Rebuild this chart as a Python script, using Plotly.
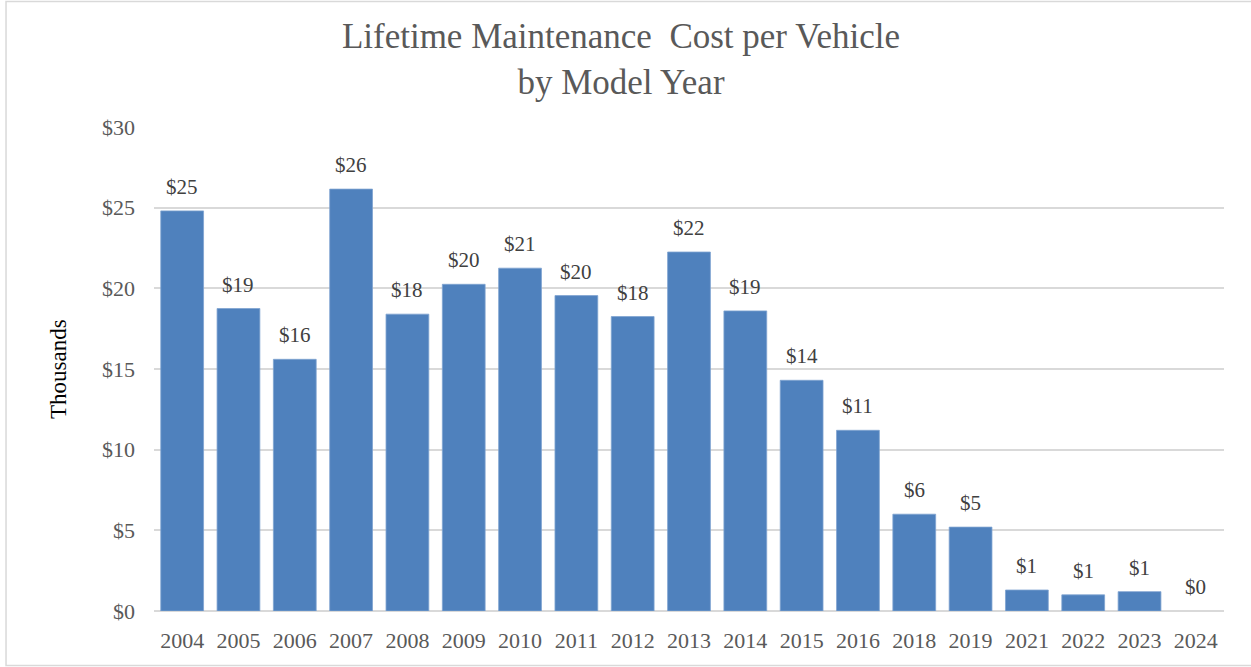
import plotly.graph_objects as go

years = ["2004", "2005", "2006", "2007", "2008", "2009", "2010", "2011", "2012", "2013",
         "2014", "2015", "2016", "2018", "2019", "2021", "2022", "2023", "2024"]
costs = [24.8, 18.75, 15.6, 26.15, 18.4, 20.25, 21.25, 19.55, 18.25, 22.25,
         18.6, 14.3, 11.2, 6.0, 5.2, 1.3, 1.0, 1.2, 0.0]

y_ticks = [0, 5, 10, 15, 20, 25, 30]
y_tick_labels = ["$0", "$5", "$10", "$15", "$20", "$25", "$30"]

FONT = "Liberation Serif, Times New Roman, serif"

fig = go.Figure()
fig.add_trace(go.Bar(
    x=years, y=costs,
    marker=dict(color="#4F81BD",
                line=dict(color="#7FA3D0", width=[0.8 if c > 0 else 0 for c in costs])),
    hoverinfo="skip",
))

annotations = []
for i, (yr, c) in enumerate(zip(years, costs)):
    annotations.append(dict(
        x=i, y=c, xref="x", yref="y", text="$%d" % round(c + 1e-9),
        showarrow=False, yanchor="bottom", yshift=10,
        font=dict(family=FONT, size=21, color="#404040"),
    ))

annotations.append(dict(
    x=-0.0897, y=0.5, xref="paper", yref="paper", text="Thousands",
    textangle=-90, showarrow=False, xanchor="center", yanchor="middle",
    font=dict(family=FONT, size=23, color="#000000"),
))

fig.update_layout(
    width=1251, height=667,
    margin=dict(l=154, r=27, t=127, b=56),
    paper_bgcolor="white", plot_bgcolor="white",
    bargap=0.24,
    showlegend=False,
    title=dict(
        text="Lifetime Maintenance\u00a0 Cost per Vehicle<br>by Model Year",
        x=621 / 1251, xanchor="center", xref="container",
        y=1 - 48 / 667, yanchor="middle", yref="container",
        font=dict(family=FONT, size=35, color="#595959"),
    ),
    xaxis=dict(
        type="category",
        categoryorder="array", categoryarray=years,
        range=[-0.5, len(years) - 0.5], autorange=False,
        showline=False, showgrid=False, ticks="",
        tickfont=dict(family=FONT, size=22, color="#595959"),
        ticklabelstandoff=14,
    ),
    yaxis=dict(
        range=[0, 30], autorange=False,
        tickvals=y_ticks, ticktext=y_tick_labels,
        showgrid=True, gridcolor="#D9D9D9", gridwidth=1.5,
        zeroline=True, zerolinecolor="#D9D9D9", zerolinewidth=1.5,
        showline=False, ticks="",
        tickfont=dict(family=FONT, size=22, color="#595959"),
        ticklabelstandoff=18,
    ),
    annotations=annotations,
    shapes=[dict(
        type="rect", xref="paper", yref="paper",
        x0=-0.1383, x1=1.04, y0=-0.1126, y1=1.2593,
        line=dict(color="#D9D9D9", width=1.5), fillcolor="rgba(0,0,0,0)",
        layer="below",
    )],
)

fig.write_html("out.html", config={"displayModeBar": False},
               post_script="document.body.style.margin='0';document.body.style.overflow='hidden';")
